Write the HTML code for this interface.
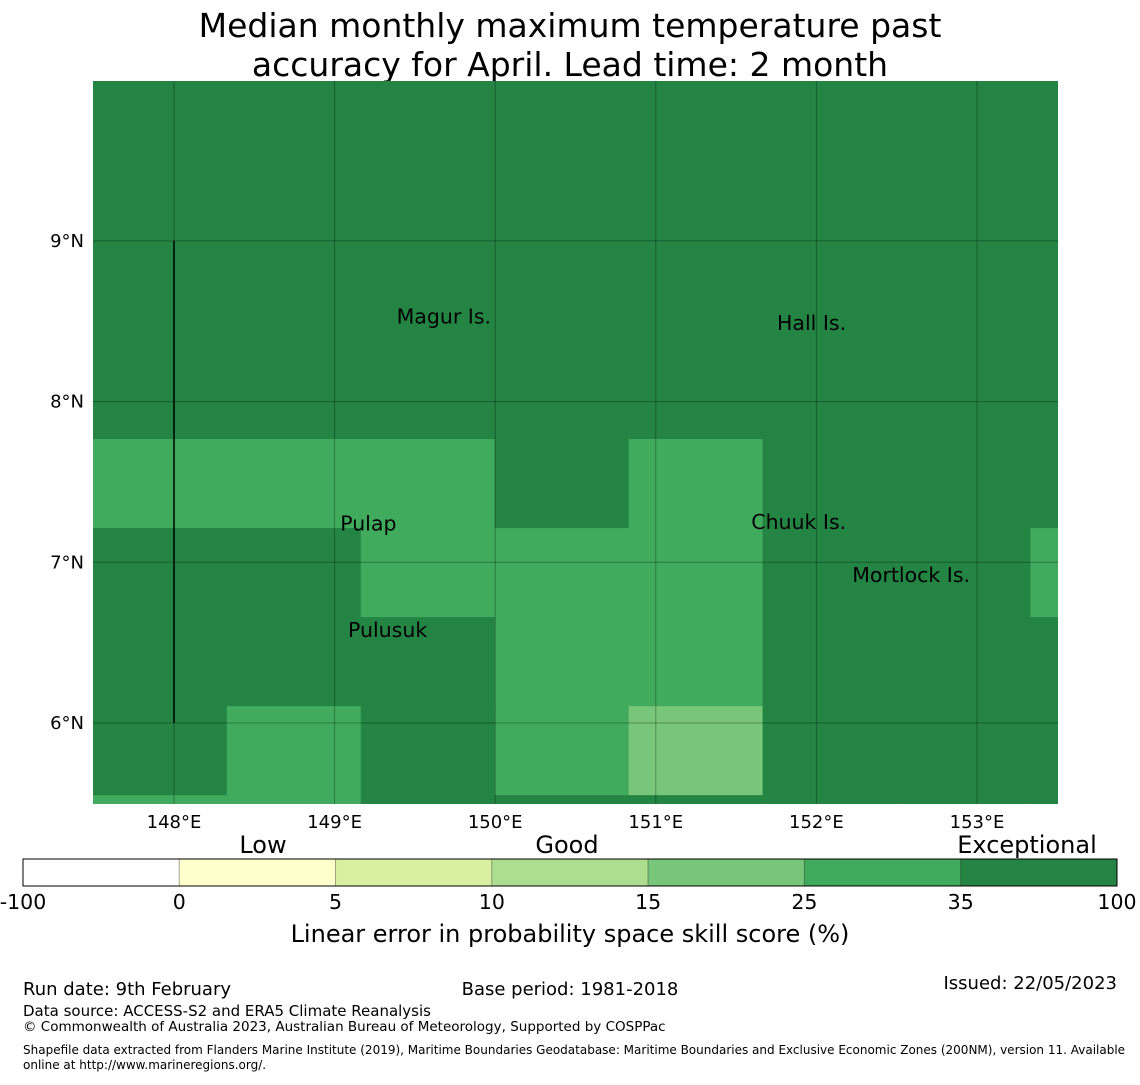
<!DOCTYPE html>
<html><head><meta charset="utf-8"><style>
body{margin:0;background:#fff;font-family:"Liberation Sans","DejaVu Sans",sans-serif}
svg text{font-family:"DejaVu Sans","Liberation Sans",sans-serif}
</style></head><body>
<svg id="chart" width="1140" height="1080" xmlns="http://www.w3.org/2000/svg">
<text x="570" y="37" font-size="33" text-anchor="middle">Median monthly maximum temperature past</text>
<text x="570" y="76" font-size="33" text-anchor="middle">accuracy for April. Lead time: 2 month</text>
<g id="map"></g>
<g id="cbar"></g>
<text x="263" y="853" font-size="24" text-anchor="middle">Low</text>
<text x="567" y="853" font-size="24" text-anchor="middle">Good</text>
<text x="1027" y="853" font-size="24" text-anchor="middle">Exceptional</text>
<text x="570" y="942" font-size="24" text-anchor="middle">Linear error in probability space skill score (%)</text>
<text x="23" y="995" font-size="18">Run date: 9th February</text>
<text x="570" y="995" font-size="18" text-anchor="middle">Base period: 1981-2018</text>
<text x="1117" y="989" font-size="18" text-anchor="end">Issued: 22/05/2023</text>
<text x="23" y="1016" font-size="15">Data source: ACCESS-S2 and ERA5 Climate Reanalysis</text>
<text x="23" y="1031" font-size="13.5">© Commonwealth of Australia 2023, Australian Bureau of Meteorology, Supported by COSPPac</text>
<text x="23" y="1054" font-size="12">Shapefile data extracted from Flanders Marine Institute (2019), Maritime Boundaries Geodatabase: Maritime Boundaries and Exclusive Economic Zones (200NM), version 11. Available</text>
<text x="23" y="1069" font-size="12">online at http://www.marineregions.org/.</text>
</svg>
<script>
const classColors=["#ffffff","#ffffcc","#d9f0a3","#addd8e","#78c679","#41ab5d","#238443"];
const cbarTicks=["-100","0","5","10","15","25","35","100"];
const lonTicks=[148,149,150,151,152,153];
const latTicks=[6,7,8,9];
// grid cell class indices, rows top to bottom, cols left to right
const gridRows=[
[6,6,6,6,6,6,6,6],
[6,6,6,6,6,6,6,6],
[6,6,6,6,6,6,6,6],
[6,6,6,6,6,6,6,6],
[5,5,5,6,5,6,6,6],
[6,6,5,5,5,6,6,5],
[6,6,6,5,5,6,6,6],
[6,5,6,5,4,6,6,6],
[5,5,6,6,6,6,6,6]];
const cellLon0=147.495, cellDLon=0.834, cellLat0=7.767, cellDLat=0.554;
const places=[["Magur Is.",149.68,8.53],["Hall Is.",151.97,8.49],["Pulap",149.21,7.24],["Chuuk Is.",151.89,7.25],["Mortlock Is.",152.59,6.92],["Pulusuk",149.33,6.58]];
const NS="http://www.w3.org/2000/svg";
const X0=93,X1=1058,Y0=81,Y1=804;
const xs=lon=>174+(lon-148)*160.6;
const ys=lat=>723-(lat-6)*160.7;
function mk(t,a,p){const e=document.createElementNS(NS,t);for(const k in a)e.setAttribute(k,a[k]);p.appendChild(e);return e;}
const map=document.getElementById('map');
const clip=mk('clipPath',{id:'mc'},map);mk('rect',{x:X0,y:Y0,width:X1-X0,height:Y1-Y0},clip);
const cg=mk('g',{'clip-path':'url(#mc)'},map);
mk('rect',{x:X0,y:Y0,width:X1-X0,height:Y1-Y0,fill:classColors[6]},cg);
gridRows.forEach((row,r)=>{row.forEach((v,c)=>{
 const la=cellLat0-(r-4)*cellDLat;
 const yT=r===0?Y0:ys(la), yB=ys(la-cellDLat);
 const x=xs(cellLon0+c*cellDLon);
 const e=mk('rect',{x:x,y:yT,width:xs(cellLon0+(c+1)*cellDLon)-x+0.5,height:yB-yT+0.5,fill:classColors[v]},cg);
 
 
});});
lonTicks.forEach(l=>{const x=xs(l);
 const g=mk('line',{x1:x,x2:x,y1:Y0,y2:Y1,stroke:'#000','stroke-opacity':0.3,'stroke-width':1},cg);
 
 const t=mk('text',{x:x,y:828,'font-size':18,'text-anchor':'middle'},map);t.textContent=l+'°E';
 });
latTicks.forEach(l=>{const y=ys(l);
 const g=mk('line',{x1:X0,x2:X1,y1:y,y2:y,stroke:'#000','stroke-opacity':0.3,'stroke-width':1},cg);
 
 const t=mk('text',{x:84,y:y+6,'font-size':18,'text-anchor':'end'},map);t.textContent=l+'°N';
 });
const bl=mk('line',{x1:xs(148),x2:xs(148),y1:ys(9),y2:ys(6),stroke:'#000','stroke-width':1.5},cg);

places.forEach(p=>{const t=mk('text',{x:xs(p[1]),y:ys(p[2])+7,'font-size':20.5,'text-anchor':'middle'},map);t.textContent=p[0];
 });
const cb=document.getElementById('cbar');
const cx0=23,cx1=1117,cw=(cx1-cx0)/classColors.length;
classColors.forEach((c,i)=>{const e=mk('rect',{x:cx0+i*cw,y:859,width:cw,height:27,fill:c,stroke:'#000','stroke-opacity':0.25},cb);
 });
mk('rect',{x:cx0,y:859,width:cx1-cx0,height:27,fill:'none',stroke:'#000','stroke-width':1},cb);
cbarTicks.forEach((t,i)=>{const e=mk('text',{x:cx0+i*cw,y:909,'font-size':20.5,'text-anchor':'middle'},cb);e.textContent=t;
 });
</script>
</body></html>
